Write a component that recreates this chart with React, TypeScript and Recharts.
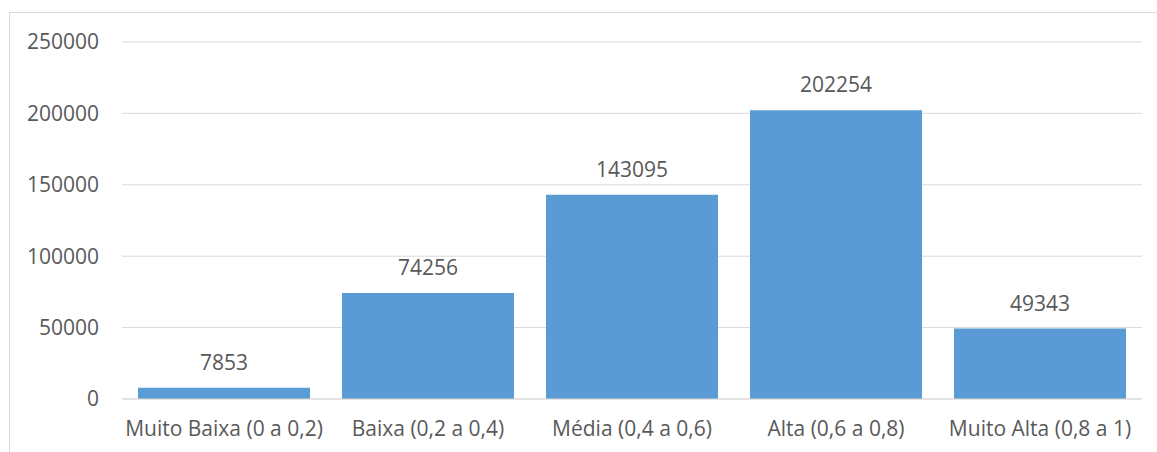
import React from 'react';
import { Bar, BarChart, CartesianGrid, LabelList, XAxis, YAxis } from 'recharts';

const categories = [
  'Muito Baixa (0 a 0,2)',
  'Baixa (0,2 a 0,4)',
  'Média (0,4 a 0,6)',
  'Alta (0,6 a 0,8)',
  'Muito Alta (0,8 a 1)',
];
const counts = [7853, 74256, 143095, 202254, 49343];
const yTicks = [0, 50000, 100000, 150000, 200000, 250000];

const data = categories.map((name, i) => ({ name, value: counts[i] }));

const FONT = '"Open Sans", sans-serif';
const TEXT = '#595959';

export default function App() {
  return (
    <div style={{ position: 'absolute', left: 0, top: 0, width: 1157, height: 452, background: '#fff', overflow: 'hidden' }}>
      <div
        style={{
          position: 'absolute',
          left: 9,
          top: 12,
          width: 1200,
          height: 500,
          borderLeft: '1px solid #D9D9D9',
          borderTop: '1px solid #D9D9D9',
        }}
      />
      <div style={{ position: 'absolute', left: 0, top: 0 }}>
        <BarChart
          width={1157}
          height={452}
          data={data}
          margin={{ top: 42, right: 15, left: 0, bottom: 0 }}
          barCategoryGap={16}
        >
          <CartesianGrid vertical={false} stroke="#D9D9D9" />
          <XAxis
            dataKey="name"
            axisLine={{ stroke: '#D9D9D9' }}
            tickLine={false}
            tickSize={0}
            tickMargin={22}
            interval={0}
            tick={{ fontSize: 21, fill: TEXT, fontFamily: FONT }}
            height={53}
          />
          <YAxis
            domain={[0, 250000]}
            ticks={yTicks}
            axisLine={false}
            tickLine={false}
            tickSize={0}
            tickMargin={23}
            width={122}
            tick={{ fontSize: 21, fill: TEXT, fontFamily: FONT }}
          />
          <Bar dataKey="value" fill="#5B9BD5" isAnimationActive={false}>
            <LabelList
              dataKey="value"
              position="top"
              offset={18}
              style={{ fontSize: 21, fill: TEXT, fontFamily: FONT }}
            />
          </Bar>
        </BarChart>
      </div>
    </div>
  );
}
